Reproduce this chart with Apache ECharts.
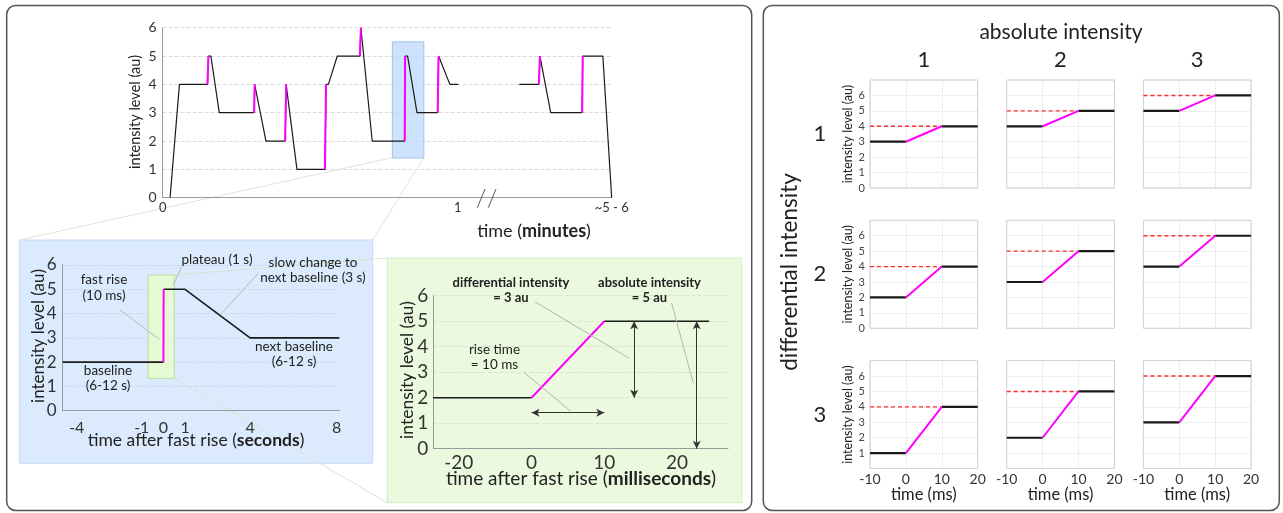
<!DOCTYPE html>
<html><head><meta charset="utf-8">
<script src="https://cdn.jsdelivr.net/npm/echarts@6/dist/echarts.min.js"></script>
<style>html,body{margin:0;padding:0;background:#fff}#c{width:1283px;height:513px}</style>
</head><body><div id="c"></div><script>
// ---------- data ----------
// top panel: session timeline (seconds on a compressed display axis; null = axis break)
const topTime  = [1.5,3.4,9.1,9.3,9.8,11.5,18.6,18.7,19.1,21.0,24.9,25.1,25.4,27.3,33.0,33.2,33.7,35.5,40.1,40.3,40.7,42.6,49.2,49.3,49.8,51.7,55.9,56.1,56.5,58.4,60.1,null,72.5,76.5,76.7,77.1,78.9,85.3,85.4,89.5,91.3];
const topLevel = [0,4,4,5,5,3,3,4,4,2,2,4,4,1,1,4,4,5,5,6,6,2,2,5,5,3,3,5,5,4,4,null,4,4,5,5,3,3,5,5,0];
const topRiseIdx = [2,6,10,14,18,22,26,33,37];
const topTickValues = [0,60,91.3];
const topTickLabels = ['0','1','~5 - 6'];
const topZoomBox = [[46.7,1.4],[53.1,5.5]];
// middle (blue) panel: one stimulus, seconds
const secTime  = [-4.65,0,0.01,1,4,8.12];
const secLevel = [2,2,5,5,3,3];
const secTicks = [-4,-1,0,1,4,8];
const secZoomBox = [[-0.7,1.33],[0.5,5.59]];
// green panel: fast rise, milliseconds
const msTime  = [-27,0,10,24.4];
const msLevel = [2,2,5,5];
const msTicks = [-20,0,10,20];
// right panel: 3x3 grid
const absIntensity  = [4,5,6];   // columns
const diffIntensity = [1,2,3];   // rows
const miniTime = [-10,0,10,20];

// piecewise display mapping of the green panel's time axis
const disp = ms => ms < 0 ? ms/20 : ms/10;

// ---------- build ----------
const FF = 'Lato';
const BLACK = '#1a1a1a', MAG = '#ff00ff', AX = '#9a9a9a', TXT = '#222';
const grids = [], xAxes = [], yAxes = [], series = [];

function seg(gi, pts, color, width, type, z) {
  series.push({type:'line', xAxisIndex:gi, yAxisIndex:gi, data:pts, showSymbol:false, symbol:'none',
    lineStyle:{color, width, type:type||'solid'}, z:z||2, silent:true, animation:false});
}

// grid 0 : top timeline
grids.push({left:162.7, top:27.7, width:449, height:170});
xAxes.push({gridIndex:0, type:'value', min:0, max:91.3,
  axisLine:{show:true, onZero:false, lineStyle:{color:AX}}, axisTick:{show:false}, splitLine:{show:false},
  axisLabel:{customValues:topTickValues, fontSize:13, color:'#333', margin:4, fontFamily:FF,
    formatter:v => topTickLabels[topTickValues.indexOf(v)] }});
yAxes.push({gridIndex:0, type:'value', min:0, max:6, interval:1,
  axisLine:{show:true, onZero:false, lineStyle:{color:AX}}, axisTick:{show:false},
  splitLine:{show:true, lineStyle:{color:'#dcdcdc', type:'dashed'}},
  axisLabel:{fontSize:14, color:'#333', margin:6, fontFamily:FF}});
{
  let cur = [];
  topTime.forEach((t,i)=>{
    if (t === null) { seg(0, cur, BLACK, 1.2); cur = []; }
    else cur.push([t, topLevel[i]]);
  });
  seg(0, cur, BLACK, 1.2);
  topRiseIdx.forEach(i => seg(0, [[topTime[i],topLevel[i]],[topTime[i+1],topLevel[i+1]]], MAG, 2, 'solid', 3));
  series[0].markArea = {silent:true, itemStyle:{color:'rgba(190,218,250,0.75)', borderColor:'rgba(150,190,240,0.9)', borderWidth:1},
    data:[[{coord:topZoomBox[0]},{coord:topZoomBox[1]}]]};
}

// grid 1 : blue panel (seconds)
grids.push({left:62.7, top:265, width:276.6, height:145.7});
xAxes.push({gridIndex:1, type:'value', min:-4.65, max:8.12,
  axisLine:{show:true, onZero:false, lineStyle:{color:AX}}, axisTick:{show:false}, splitLine:{show:false},
  axisLabel:{customValues:secTicks, fontSize:16, color:'#333', margin:9, fontFamily:FF}});
yAxes.push({gridIndex:1, type:'value', min:0, max:6, interval:1,
  axisLine:{show:true, onZero:false, lineStyle:{color:AX}}, axisTick:{show:false},
  splitLine:{show:true, lineStyle:{color:'#c9d9ec', type:'dashed'}},
  axisLabel:{fontSize:17, color:'#333', margin:6, fontFamily:FF}});
{
  const pts = secTime.map((t,i)=>[t, secLevel[i]]);
  const s0 = series.length;
  seg(1, pts.slice(0,2), BLACK, 1.6);
  seg(1, pts.slice(1,3), MAG, 2, 'solid', 3);
  seg(1, pts.slice(2), BLACK, 1.6);
  series[s0].markArea = {silent:true, itemStyle:{color:'rgba(230,250,210,0.95)', borderColor:'#b7e09c', borderWidth:1},
    data:[[{coord:secZoomBox[0]},{coord:secZoomBox[1]}]]};
}

// grid 2 : green panel (milliseconds)
grids.push({left:433.3, top:295.7, width:294.7, height:153});
xAxes.push({gridIndex:2, type:'value', min:disp(-27), max:disp(27),
  axisLine:{show:true, onZero:false, lineStyle:{color:AX}}, axisTick:{show:false}, splitLine:{show:false},
  axisLabel:{customValues:msTicks.map(disp), fontSize:19, color:'#333', margin:5, fontFamily:FF,
    formatter:v => String(msTicks[msTicks.map(disp).indexOf(v)]) }});
yAxes.push({gridIndex:2, type:'value', min:0, max:6, interval:1,
  axisLine:{show:true, onZero:false, lineStyle:{color:AX}}, axisTick:{show:false},
  splitLine:{show:true, lineStyle:{color:'#d5e8c8', type:'dashed'}},
  axisLabel:{fontSize:19, color:'#333', margin:5, fontFamily:FF}});
{
  const pts = msTime.map((t,i)=>[disp(t), msLevel[i]]);
  const s0 = series.length;
  seg(2, pts.slice(0,2), BLACK, 1.6);
  seg(2, pts.slice(1,3), MAG, 2, 'solid', 3);
  seg(2, pts.slice(2), BLACK, 1.6);
  const arrowY = 1.41;
  series[s0].markLine = {silent:true, symbol:['arrow','arrow'], symbolSize:[6,8], label:{show:false},
    lineStyle:{color:'#333', width:1, type:'solid'},
    data:[
      [{coord:[disp(msTime[1]),arrowY]},{coord:[disp(msTime[2]),arrowY]}],
      [{coord:[disp(14.1),msLevel[2]]},{coord:[disp(14.1),msLevel[0]]}],
      [{coord:[disp(22.7),msLevel[2]]},{coord:[disp(22.7),0]}]
    ]};
}

// grids 3..11 : right panel
const colX = [870, 1006.7, 1143.4], rowY = [80, 220.3, 360.6];
diffIntensity.forEach((d,r)=>{
  absIntensity.forEach((a,c)=>{
    const gi = grids.length;
    grids.push({left:colX[c], top:rowY[r], width:107.7, height:108, show:true, borderColor:'#c8c8c8', borderWidth:1, backgroundColor:'transparent'});
    xAxes.push({gridIndex:gi, type:'value', min:-10, max:20, interval:10,
      axisLine:{show:false, onZero:false}, axisTick:{show:false},
      splitLine:{show:true, lineStyle:{color:'#dedede', type:'dotted'}},
      axisLabel:{show:r===2, fontSize:14, color:'#333', margin:4, fontFamily:FF}});
    yAxes.push({gridIndex:gi, type:'value', min:0, max:7, interval:1,
      axisLine:{show:false, onZero:false}, axisTick:{show:false},
      splitLine:{show:true, lineStyle:{color:'#dedede', type:'dotted'}},
      axisLabel:{show:c===0, fontSize:11, color:'#444', margin:5, fontFamily:FF,
        formatter:v => (v===7 || (r===2 && v===0)) ? '' : String(v)}});
    const b = a - d;
    seg(gi, [[miniTime[0],a],[miniTime[2],a]], '#ff2a2a', 1.4, [4,3], 2);
    seg(gi, [[miniTime[0],b],[miniTime[1],b]], BLACK, 2.2, 'solid', 3);
    seg(gi, [[miniTime[1],b],[miniTime[2],a]], MAG, 2, 'solid', 4);
    seg(gi, [[miniTime[2],a],[miniTime[3],a]], BLACK, 2.2, 'solid', 3);
  });
});

// ---------- graphics ----------
const G = [];
function rect(x,y,w,h,fill,stroke,lw,r,z){ G.push({type:'rect', z:z, shape:{x,y,width:w,height:h,r:r||0}, style:{fill:fill||'none', stroke:stroke||'none', lineWidth:lw||1}, silent:true}); }
function line(x1,y1,x2,y2,stroke,lw,z){ G.push({type:'line', z:z||5, shape:{x1,y1,x2,y2}, style:{stroke, lineWidth:lw||1}, silent:true}); }
function txt(x,y,text,size,opt){
  opt = opt||{};
  G.push({type:'text', z:20, x, y, rotation:opt.rot||0, silent:true,
    style:{text, x:0, y:0, align:opt.align||'center', verticalAlign:'middle',
      fontSize:size, fontFamily:FF, fontWeight:opt.bold?'bold':'normal', fill:opt.color||TXT, lineHeight:opt.lh||Math.round(size*1.15),
      rich:opt.rich}});
}
function richT(x,y,pre,bold,post,size,rot){
  const st = {fontSize:size, fontFamily:FF, fill:TXT};
  txt(x,y,'{a|'+pre+'}{b|'+bold+'}{a|'+post+'}', size, {rot, rich:{a:st, b:Object.assign({}, st, {fontWeight:'bold'})}});
}

// outer frames
rect(6.7,5.5,745,505,'none','#555',1.5,9,-20);
rect(763.3,5.5,516,505,'none','#555',1.5,9,-20);
// sub panels
rect(19.3,240,353.4,223.3,'#dbeafc','#c6dbf3',1,0,-30);
rect(387.3,258,354.4,244.7,'#ebf9df','#d3ecc2',1,0,-30);
// connector lines
line(392.3,157.7,19.3,240,'#e2e2e2',1,-25);
line(423.7,157.7,372.7,240,'#e2e2e2',1,-25);
line(174.3,378.3,387.3,502.7,'#d5e6d0',1,-25);
line(174.3,275,387.3,258,'#d5e6d0',1,-25);
// axis break marks
line(477.3,207.7,485,189,'#555',1,20);
line(488.3,207.7,496,189,'#555',1,20);

// top titles
txt(135,112,'intensity level (au)',14.5,{rot:Math.PI/2});
richT(534,231,'time (','minutes',')',18);

// blue panel texts
txt(38.5,336,'intensity level (au)',17,{rot:Math.PI/2});
richT(196,440,'time after fast rise (','seconds',')',17.5);
txt(104,287.5,'fast rise\n(10 ms)',13.5,{lh:16});
txt(217,260,'plateau (1 s)',13.5);
txt(313,270.5,'slow change to\nnext baseline (3 s)',13.5,{lh:15});
txt(294,354.5,'next baseline\n(6-12 s)',13.5,{lh:15});
txt(108,378.5,'baseline\n(6-12 s)',13.5,{lh:15});
line(120,310,159.3,339.3,'#b9b9b9',1,10);
line(181.7,266.7,173.3,285,'#b9b9b9',1,10);
line(258.3,273.3,221.7,313.3,'#b9b9b9',1,10);

// green panel texts
txt(407.5,370,'intensity level (au)',17.5,{rot:Math.PI/2});
richT(581,478.5,'time after fast rise (','milliseconds',')',19);
txt(511,290.5,'differential intensity\n= 3 au',13,{bold:true,lh:14.5});
txt(649.5,290.5,'absolute intensity\n= 5 au',13,{bold:true,lh:14.5});
txt(494.5,357.5,'rise time\n= 10 ms',13.5,{lh:15});
line(535,301.7,629.3,358.3,'#b5b5b5',1,10);
line(671.7,303.3,693.3,383.3,'#b5b5b5',1,10);
line(523.3,371.7,570,410.7,'#b5b5b5',1,10);

// right panel texts
txt(1061,32,'absolute intensity',21);
[0,1,2].forEach(i=>{
  txt(colX[i]+53.8,60,String(absIntensity[i]-3),22);
  txt(820,rowY[i]+54,String(diffIntensity[i]),22);
  txt(847.5,rowY[i]+54,'intensity level (au)',12.5,{rot:Math.PI/2});
  txt(colX[i]+53.8,495,'time (ms)',16.5);
});
txt(790,272,'differential intensity',22.5,{rot:Math.PI/2});

const chart = echarts.init(document.getElementById('c'), null, {renderer:'canvas'});
chart.setOption({
  animation:false, backgroundColor:'#fff',
  textStyle:{fontFamily:FF},
  grid:grids.map(g=>Object.assign({outerBoundsMode:'none', containLabel:false}, g)),
  xAxis:xAxes, yAxis:yAxes, series, graphic:{elements:G}
});
</script></body></html>
